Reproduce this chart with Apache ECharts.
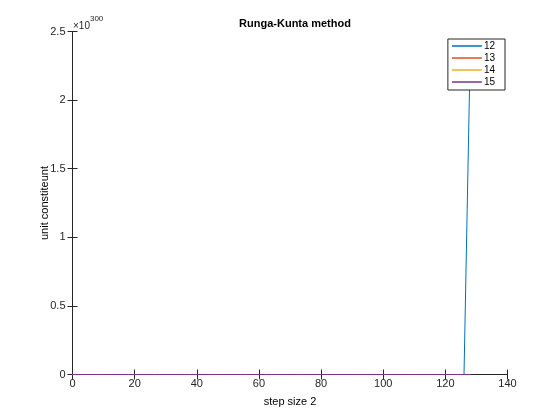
<!DOCTYPE html>
<html><head><meta charset="utf-8">
<script src="https://cdn.jsdelivr.net/npm/echarts@6/dist/echarts.min.js"></script>
<style>html,body{margin:0;padding:0;background:#fff}#c{width:560px;height:420px}</style>
</head><body><div id="c"></div>
<script>
var steps = [0,2,4,6,8,10,12,14,16,18,20,22,24,26,28,30,32,34,36,38,40,42,44,46,48,50,52,54,56,58,60,62,64,66,68,70,72,74,76,78,80,82,84,86,88,90,92,94,96,98,100,102,104,106,108,110,112,114,116,118,120,122,124,126,128];
// values in units of 1e300
var s12 = [0,0,0,0,0,0,0,0,0,0,0,0,0,0,0,0,0,0,0,0,0,0,0,0,0,0,0,0,0,0,0,0,0,0,0,0,0,0,0,0,0,0,0,0,0,0,0,0,0,0,0,0,0,0,0,0,0,0,0,0,0,0,0,0,2.35];
var s13 = [0,0,0,0,0,0,0,0,0,0,0,0,0,0,0,0,0,0,0,0,0,0,0,0,0,0,0,0,0,0,0,0,0,0,0,0,0,0,0,0,0,0,0,0,0,0,0,0,0,0,0,0,0,0,0,0,0,0,0,0,0,0,0,0,0];
var s14 = [0,0,0,0,0,0,0,0,0,0,0,0,0,0,0,0,0,0,0,0,0,0,0,0,0,0,0,0,0,0,0,0,0,0,0,0,0,0,0,0,0,0,0,0,0,0,0,0,0,0,0,0,0,0,0,0,0,0,0,0,0,0,0,0,0];
var s15 = [0,0,0,0,0,0,0,0,0,0,0,0,0,0,0,0,0,0,0,0,0,0,0,0,0,0,0,0,0,0,0,0,0,0,0,0,0,0,0,0,0,0,0,0,0,0,0,0,0,0,0,0,0,0,0,0,0,0,0,0,0,0,0,0,0];
var seriesNames = ['12','13','14','15'];
var colors = ['#0072BD','#D95319','#EDB120','#7E2F8E'];
var xTicks = [0,20,40,60,80,100,120,140];
var yTicks = [0,0.5,1,1.5,2,2.5];

function pairs(arr){ return arr.map(function(v,i){ return [steps[i], v]; }); }
var all = [s12,s13,s14,s15];
var font = 'Liberation Sans, Arial, Helvetica, sans-serif';
var chart = echarts.init(document.getElementById('c'), null, {renderer:'canvas'});
var axisLine = {show:true, lineStyle:{color:'#262626', width:1}};
var ticks = {show:true, inside:true, length:5, lineStyle:{color:'#262626'}};
chart.setOption({
  animation:false,
  backgroundColor:'#fff',
  textStyle:{fontFamily:font},
  title:{text:'Runga-Kunta method', left:290, top:13, textAlign:'center',
    textStyle:{fontFamily:font, fontSize:11, fontWeight:'bold', color:'#000'}},
  grid:{left:72.5, right:52.5, top:31.5, bottom:45.5, containLabel:false},
  legend:{orient:'vertical', right:55, top:39, icon:'rect', data:seriesNames,
    backgroundColor:'#fff', borderColor:'#262626', borderWidth:1,
    padding:[1,10,2,4], itemGap:0, itemWidth:30, itemHeight:1.5,
    textStyle:{fontFamily:font, fontSize:10, color:'#000', lineHeight:12, padding:[0,0,0,-3]}},
  xAxis:[
    {type:'value', min:0, max:140, interval:20, position:'bottom',
      axisLine:axisLine, axisTick:ticks, splitLine:{show:false},
      axisLabel:{fontFamily:font, fontSize:11, color:'#262626', margin:4},
      name:'step size 2', nameLocation:'middle', nameGap:22, nameMoveOverlap:false,
      nameTextStyle:{fontFamily:font, fontSize:11, color:'#000'}},
    {type:'value', min:0, max:140, interval:20, position:'top',
      axisLine:axisLine, axisTick:ticks, axisLabel:{show:false}, splitLine:{show:false}}
  ],
  yAxis:[
    {type:'value', min:0, max:2.5, interval:0.5, position:'left',
      axisLine:axisLine, axisTick:ticks, splitLine:{show:false},
      axisLabel:{fontFamily:font, fontSize:11, color:'#262626', margin:7},
      name:'unit constiteunt', nameLocation:'middle', nameGap:22, nameMoveOverlap:false,
      nameTextStyle:{fontFamily:font, fontSize:11, color:'#000'}},
    {type:'value', min:0, max:2.5, interval:0.5, position:'right',
      axisLine:axisLine, axisTick:ticks, axisLabel:{show:false}, splitLine:{show:false}}
  ],
  graphic:[{type:'text', left:73, top:15,
    style:{text:'{a|×10}{b|300}', rich:{
      a:{fontFamily:font, fontSize:10, fill:'#262626', padding:[6,0,0,0]},
      b:{fontFamily:font, fontSize:8, fill:'#262626', verticalAlign:'top'}}}}],
  series: all.map(function(arr,i){
    return {name:seriesNames[i], type:'line', data:pairs(arr), showSymbol:false, symbol:'none',
      color:colors[i], lineStyle:{width:1, color:colors[i]}, clip:true, z:2+i};
  })
});
</script></body></html>
